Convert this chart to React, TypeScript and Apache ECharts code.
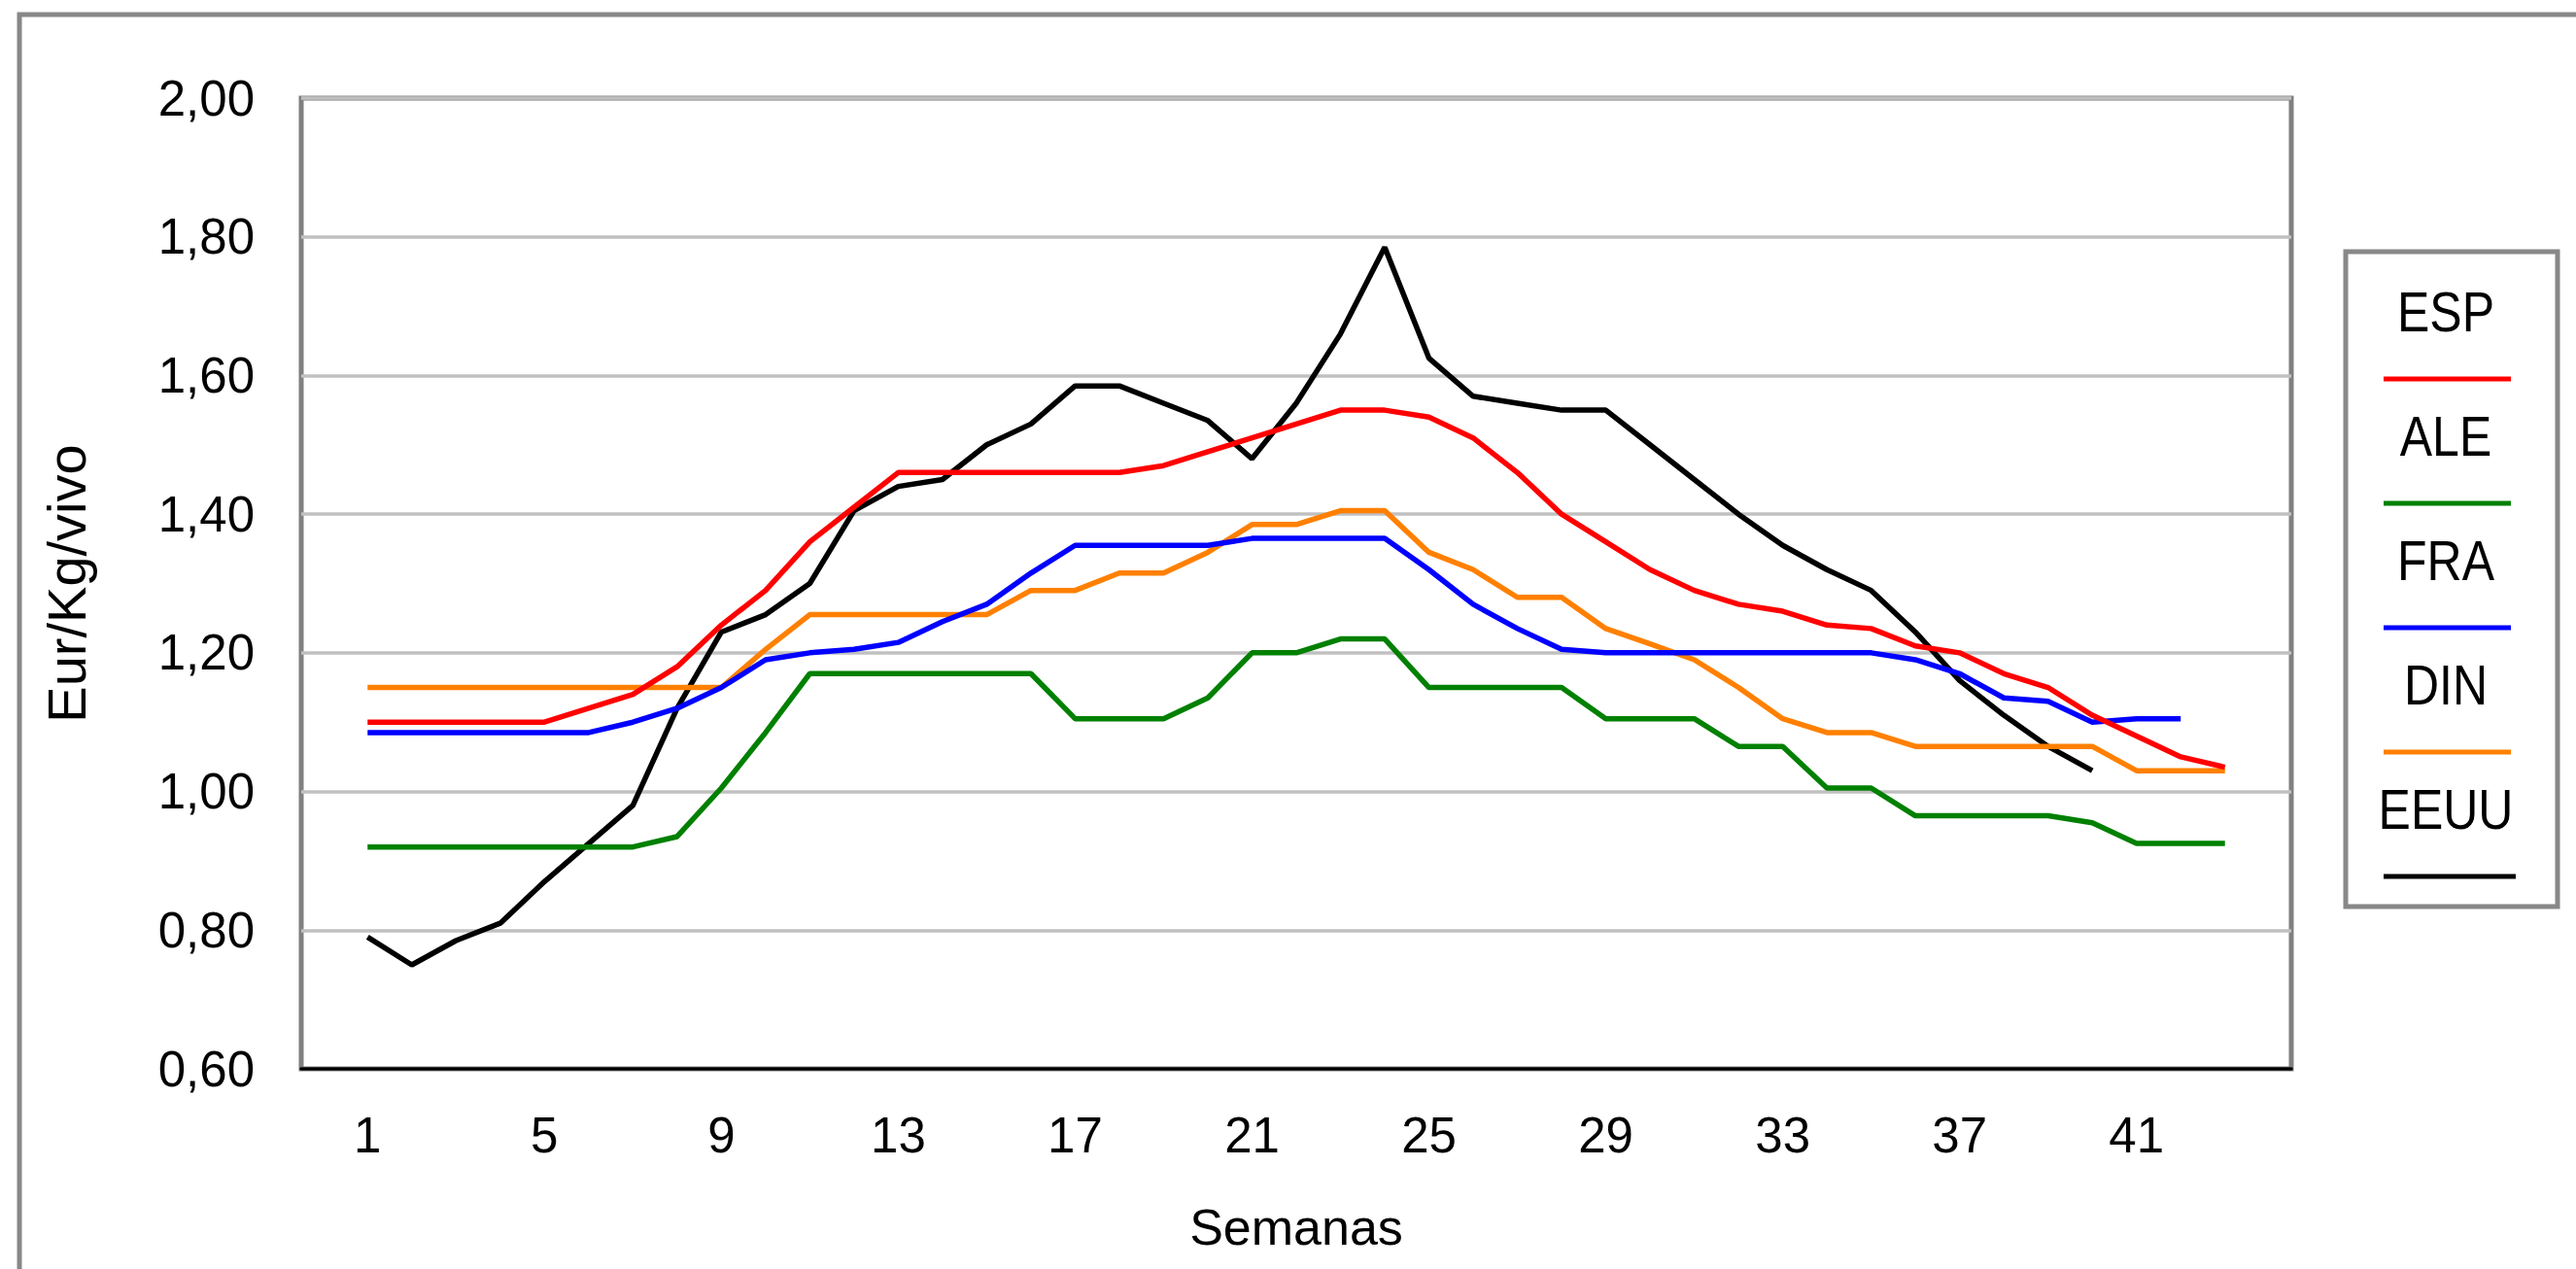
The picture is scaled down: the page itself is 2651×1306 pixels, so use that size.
import React, { useEffect, useRef } from "react";
import * as echarts from "echarts";

// Weeks 1..43
const weeks: string[] = Array.from({ length: 43 }, (_, i) => String(i + 1));

const seriesNames = ["ESP", "ALE", "FRA", "DIN", "EEUU"];
const seriesColors = ["#FF0000", "#008000", "#0000FF", "#FF8000", "#000000"];

const esp = [
  1.10, 1.10, 1.10, 1.10, 1.10, 1.12, 1.14, 1.18, 1.24, 1.29,
  1.36, 1.41, 1.46, 1.46, 1.46, 1.46, 1.46, 1.46, 1.47, 1.49,
  1.51, 1.53, 1.55, 1.55, 1.54, 1.51, 1.46, 1.40, 1.36, 1.32,
  1.29, 1.27, 1.26, 1.24, 1.235, 1.21, 1.20, 1.17, 1.15, 1.11,
  1.08, 1.05, 1.035,
];
const ale = [
  0.92, 0.92, 0.92, 0.92, 0.92, 0.92, 0.92, 0.935, 1.005, 1.085,
  1.17, 1.17, 1.17, 1.17, 1.17, 1.17, 1.105, 1.105, 1.105, 1.135,
  1.20, 1.20, 1.22, 1.22, 1.15, 1.15, 1.15, 1.15, 1.105, 1.105,
  1.105, 1.065, 1.065, 1.005, 1.005, 0.965, 0.965, 0.965, 0.965, 0.955,
  0.925, 0.925, 0.925,
];
const fra = [
  1.085, 1.085, 1.085, 1.085, 1.085, 1.085, 1.10, 1.12, 1.15, 1.19,
  1.20, 1.205, 1.215, 1.245, 1.27, 1.315, 1.355, 1.355, 1.355, 1.355,
  1.365, 1.365, 1.365, 1.365, 1.32, 1.27, 1.235, 1.205, 1.20, 1.20,
  1.20, 1.20, 1.20, 1.20, 1.20, 1.19, 1.17, 1.135, 1.13, 1.10,
  1.105, 1.105,
];
const din = [
  1.15, 1.15, 1.15, 1.15, 1.15, 1.15, 1.15, 1.15, 1.15, 1.205,
  1.255, 1.255, 1.255, 1.255, 1.255, 1.29, 1.29, 1.315, 1.315, 1.345,
  1.385, 1.385, 1.405, 1.405, 1.345, 1.32, 1.28, 1.28, 1.235, 1.213,
  1.19, 1.15, 1.105, 1.085, 1.085, 1.065, 1.065, 1.065, 1.065, 1.065,
  1.03, 1.03, 1.03,
];
const eeuu = [
  0.79, 0.75, 0.785, 0.81, 0.87, 0.925, 0.98, 1.12, 1.23, 1.255,
  1.30, 1.405, 1.44, 1.45, 1.50, 1.53, 1.585, 1.585, 1.56, 1.535,
  1.48, 1.56, 1.66, 1.785, 1.625, 1.57, 1.56, 1.55, 1.55, 1.50,
  1.45, 1.40, 1.355, 1.32, 1.29, 1.23, 1.16, 1.11, 1.065, 1.03,
];

const yTitle = "Eur/Kg/vivo";
const xTitle = "Semanas";
const FONT = "'Liberation Sans', Arial, sans-serif";

export default function App() {
  const ref = useRef<HTMLDivElement>(null);

  useEffect(() => {
    if (!ref.current) return;
    const chart = echarts.init(ref.current, null, { renderer: "svg" });

    // pad one empty category on each side (Excel-like plot padding)
    const cats = ["", ...weeks, ""];
    const pad = (arr: number[]) => {
      const out: (number | null)[] = [null, ...arr];
      while (out.length < cats.length) out.push(null);
      return out;
    };
    const allData = [esp, ale, fra, din, eeuu];

    // legend (custom: text above line sample)
    const legendLeft = 2414;
    const legendTop = 259;
    const legendW = 218;
    const legendH = 674;
    const itemStart = 321;
    const itemStep = 128;
    const legendGraphics: any[] = [
      {
        type: "rect",
        shape: { x: legendLeft, y: legendTop, width: legendW, height: legendH },
        style: { fill: "#ffffff", stroke: "#888888", lineWidth: 5 },
        z: 10,
      },
    ];
    seriesNames.forEach((name, i) => {
      const ty = itemStart + i * itemStep;
      legendGraphics.push({
        type: "text",
        x: 2517,
        y: ty,
        scaleY: 1.15,
        z: 11,
        style: {
          text: name,
          fontSize: 50,
          fontFamily: FONT,
          fill: "#000000",
          textAlign: "center",
          textVerticalAlign: "middle",
        },
      });
      legendGraphics.push({
        type: "line",
        z: 11,
        shape: { x1: 2453, y1: ty + 69, x2: i === 4 ? 2589 : 2584, y2: ty + 69 },
        style: { stroke: seriesColors[i], lineWidth: 5 },
      });
    });

    chart.setOption({
      animation: false,
      backgroundColor: "#ffffff",
      textStyle: { fontFamily: FONT },
      graphic: [
        {
          type: "rect",
          shape: { x: 20, y: 15, width: 2800, height: 1500 },
          style: { fill: "none", stroke: "#888888", lineWidth: 5 },
          z: 0,
        },
        ...legendGraphics,
      ],
      grid: {
        left: 310,
        top: 101,
        right: 293,
        bottom: 206,
        show: true,
        borderColor: "#808080",
        borderWidth: 5,
        backgroundColor: "#ffffff",
      },
      xAxis: {
        type: "category",
        data: cats,
        boundaryGap: true,
        axisLine: { show: true, lineStyle: { color: "#000000", width: 3.5 } },
        axisTick: { show: false },
        splitLine: { show: false },
        axisLabel: {
          interval: (idx: number, val: string) =>
            val !== "" && (Number(val) - 1) % 4 === 0,
          fontSize: 51,
          color: "#000000",
          margin: 43,
          fontFamily: FONT,
        },
        name: xTitle,
        nameLocation: "middle",
        nameGap: 137,
        nameTextStyle: { fontSize: 52, color: "#000000", fontFamily: FONT },
      },
      yAxis: {
        type: "value",
        min: 0.6,
        max: 2.0,
        interval: 0.2,
        axisLine: { show: false },
        axisTick: { show: false },
        splitLine: { show: true, lineStyle: { color: "#C0C0C0", width: 3.5 } },
        axisLabel: {
          formatter: (v: number) => v.toFixed(2).replace(".", ","),
          fontSize: 51,
          color: "#000000",
          margin: 48,
          fontFamily: FONT,
        },
        name: yTitle,
        nameLocation: "middle",
        nameGap: 214,
        nameTextStyle: { fontSize: 56, color: "#000000", fontFamily: FONT },
      },
      series: seriesNames.map((name, i) => ({
        name,
        type: "line",
        data: pad(allData[i]),
        showSymbol: false,
        symbol: "none",
        connectNulls: false,
        lineStyle: { color: seriesColors[i], width: 5.5 },
        itemStyle: { color: seriesColors[i] },
        z: 5 - i + 2,
      })),
    });

    return () => chart.dispose();
  }, []);

  return (
    <div
      ref={ref}
      style={{
        position: "fixed",
        left: 0,
        top: 0,
        width: 2651,
        height: 1306,
        background: "#ffffff",
      }}
    />
  );
}
